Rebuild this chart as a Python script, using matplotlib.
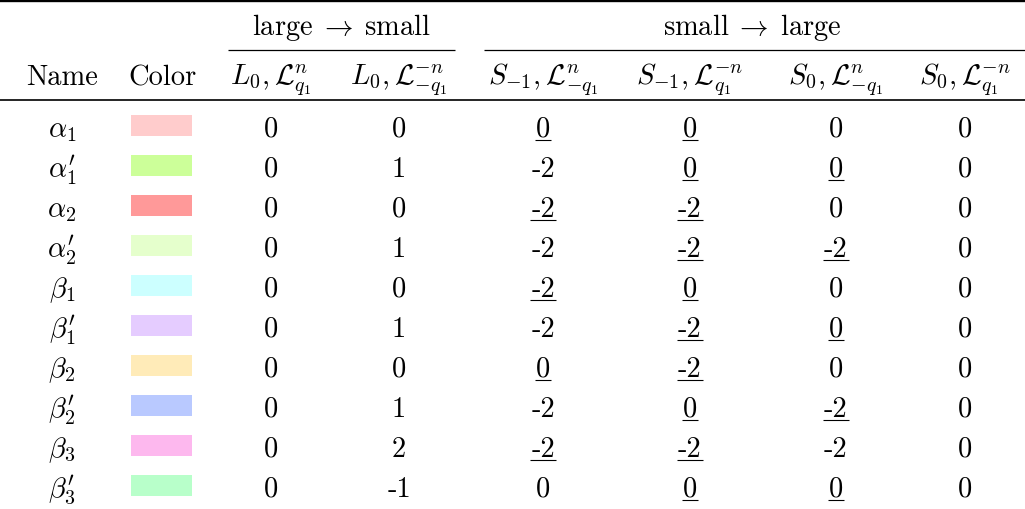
import matplotlib
matplotlib.use("Agg")
import matplotlib.pyplot as plt
from matplotlib.patches import Rectangle

plt.rcParams['mathtext.fontset'] = 'cm'
plt.rcParams['font.family'] = 'serif'
plt.rcParams['font.serif'] = ['cmr10']
plt.rcParams['axes.unicode_minus'] = False

# ---- data ----
names = [r'$\alpha_1$', r"$\alpha_1'$", r'$\alpha_2$', r"$\alpha_2'$", r'$\beta_1$',
         r"$\beta_1'$", r'$\beta_2$', r"$\beta_2'$", r'$\beta_3$', r"$\beta_3'$"]
colors = ['#FFCCCC', '#CCFF99', '#FF9999', '#E5FFCC', '#CCFFFF',
          '#E5CCFF', '#FFEBB8', '#B9C9FF', '#FDB8EE', '#B8FFCA']
group_labels = [r'$\mathrm{large}\;\rightarrow\;\mathrm{small}$',
                r'$\mathrm{small}\;\rightarrow\;\mathrm{large}$']
col_headers = [r'$L_0, \mathcal{L}^{n}_{q_1}$', r'$L_0, \mathcal{L}^{-n}_{-q_1}$',
               r'$S_{-1}, \mathcal{L}^{n}_{-q_1}$', r'$S_{-1}, \mathcal{L}^{-n}_{q_1}$',
               r'$S_0, \mathcal{L}^{n}_{-q_1}$', r'$S_0, \mathcal{L}^{-n}_{q_1}$']
col1 = ['0', '0', '0', '0', '0', '0', '0', '0', '0', '0']
col2 = ['0', '1', '0', '1', '0', '1', '0', '1', '2', '-1']
col3 = ['0', '-2', '-2', '-2', '-2', '-2', '0', '-2', '-2', '0']
col4 = ['0', '0', '-2', '-2', '0', '-2', '-2', '0', '-2', '0']
col5 = ['0', '0', '0', '-2', '0', '0', '0', '-2', '-2', '0']
col6 = ['0', '0', '0', '0', '0', '0', '0', '0', '0', '0']
ul1 = [0] * 10
ul2 = [0] * 10
ul3 = [1, 0, 1, 0, 1, 0, 1, 0, 1, 0]
ul4 = [1, 1, 1, 1, 1, 1, 1, 1, 1, 1]
ul5 = [0, 1, 0, 1, 0, 1, 0, 1, 0, 1]
ul6 = [0] * 10

cols = [col1, col2, col3, col4, col5, col6]
uls = [ul1, ul2, ul3, ul4, ul5, ul6]

# ---- layout ----
W, H = 1025, 510
fig = plt.figure(figsize=(W / 100, H / 100), dpi=100)
ax = fig.add_axes([0, 0, 1, 1])
ax.set_xlim(0, W)
ax.set_ylim(H, 0)
ax.axis('off')

FS = 20.5
name_x = 62
color_x = 162
col_x = [271, 399, 543, 690, 836, 965]
header_base = 85
group_base = 35
row0_base = 137
row_step = 40

# rules
ax.plot([0, W], [2, 2], color='black', lw=1.7, solid_capstyle='butt')
ax.plot([0, W], [101, 101], color='black', lw=1.2, solid_capstyle='butt')
ax.plot([228, 455], [51, 51], color='black', lw=0.9, solid_capstyle='butt')
ax.plot([484, W], [51, 51], color='black', lw=0.9, solid_capstyle='butt')

ax.text(341, group_base, group_labels[0], ha='center', va='baseline', fontsize=FS)
ax.text(752, group_base, group_labels[1], ha='center', va='baseline', fontsize=FS)

ax.text(name_x, header_base, 'Name', ha='center', va='baseline', fontsize=FS)
ax.text(color_x, header_base, 'Color', ha='center', va='baseline', fontsize=FS)
for x, h in zip(col_x, col_headers):
    ax.text(x, header_base, h, ha='center', va='baseline', fontsize=FS)

fig.canvas.draw()
renderer = fig.canvas.get_renderer()
inv = ax.transData.inverted()

for i in range(len(names)):
    yb = row0_base + i * row_step
    ax.text(name_x, yb, names[i], ha='center', va='baseline', fontsize=FS)
    ax.add_patch(Rectangle((131, yb - 21), 61, 21, facecolor=colors[i], edgecolor='none'))
    for x, col, ul in zip(col_x, cols, uls):
        t = ax.text(x, yb, col[i], ha='center', va='baseline', fontsize=FS)
        if ul[i]:
            bb = t.get_window_extent(renderer=renderer)
            x0 = inv.transform((bb.x0, 0))[0] - 1
            x1 = inv.transform((bb.x1, 0))[0] + 1
            ax.plot([x0, x1], [yb + 4, yb + 4], color='black', lw=0.8, solid_capstyle='butt')

fig.savefig('out.png', dpi=100)
